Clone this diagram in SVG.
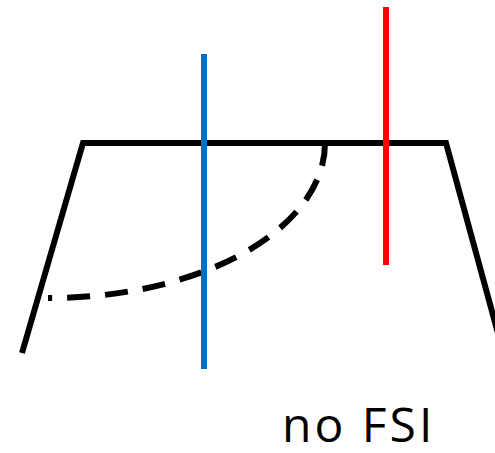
<svg xmlns="http://www.w3.org/2000/svg" width="495" height="453" viewBox="0 0 495 453">
<style>
.k{fill:none;stroke:#000;stroke-width:6}
.d{fill:none;stroke:#000;stroke-width:6;stroke-dasharray:23 15}
.lbl{font-family:"Open Sans","Liberation Sans",sans-serif;font-size:48px;letter-spacing:3px;fill:#000}
</style>
<rect width="495" height="453" fill="#fff"/>
<g id="shape">
<polyline class="k" points="22,353 83,143 446,143 499,337"/>
<path class="d" d="M325,143 A275,155 0 0 1 48,298"/>
</g>
<g id="blue-line"><line x1="204" y1="54" x2="204" y2="369" stroke="#0070C0" stroke-width="6"/></g>
<g id="red-line"><line x1="386" y1="7" x2="386" y2="265" stroke="#FF0000" stroke-width="6"/></g>
<g id="label"><text class="lbl" x="282" y="442">no FSI</text></g>
</svg>
